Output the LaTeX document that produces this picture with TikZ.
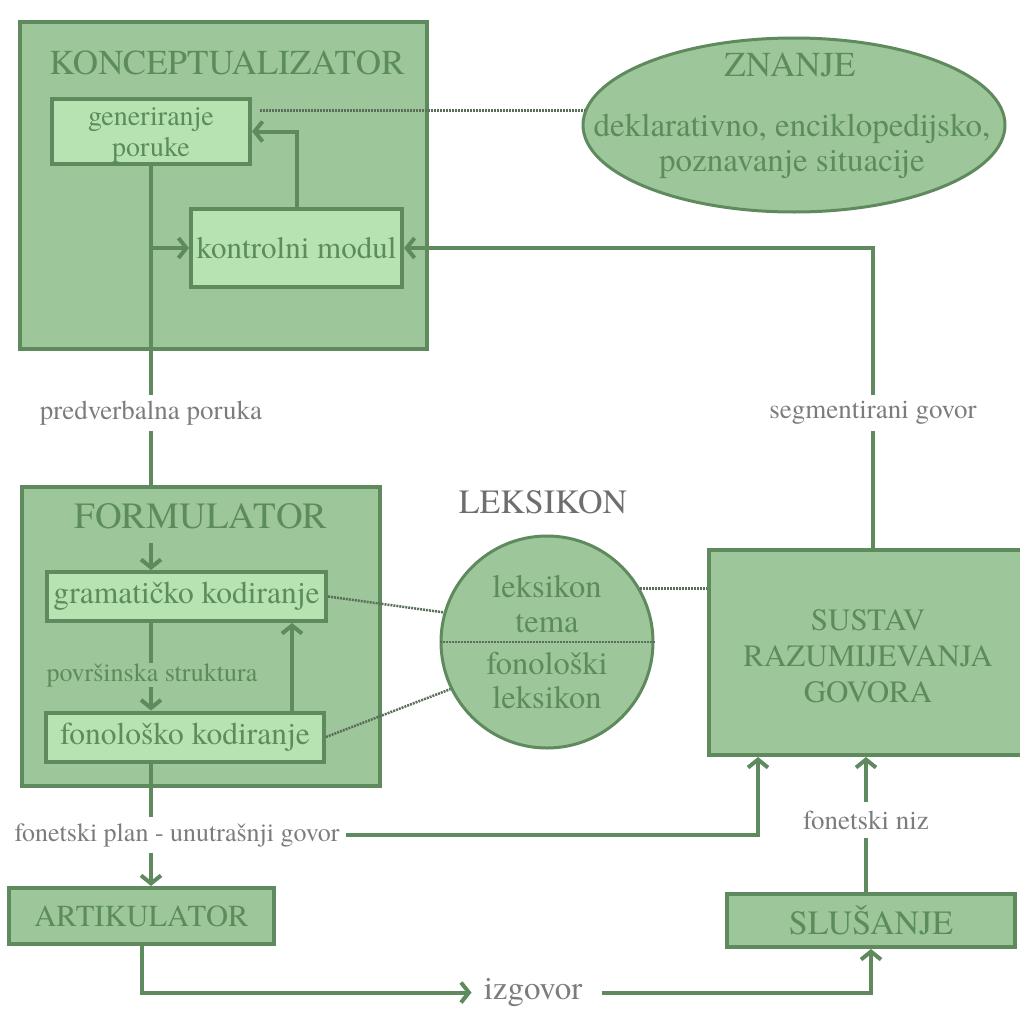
\documentclass[tikz,border=0pt]{standalone}
\usepackage{fontspec}
\setmainfont{texgyretermes-regular.otf}
\usetikzlibrary{arrows.meta,shapes.geometric,calc}
\definecolor{outerfill}{HTML}{9EC69B}
\definecolor{innerfill}{HTML}{B7E3B2}
\definecolor{edge}{HTML}{5E8A5E}
\definecolor{boxtext}{HTML}{5C8C5C}
\definecolor{labgray}{HTML}{7A7E7A}
\definecolor{lekgray}{HTML}{6E6E6E}
\definecolor{dotc}{HTML}{5A6E5A}
\begin{document}
\begin{tikzpicture}[x=1pt,y=-1pt,
  box/.style={draw=edge, line width=4pt, fill=outerfill, inner sep=0pt, rectangle},
  ibox/.style={draw=edge, line width=4pt, fill=innerfill, inner sep=0pt, text=boxtext, align=center},
  conn/.style={draw=edge, line width=4pt},
  arr/.style={conn, -{Straight Barb[length=8pt,width=20pt]}},
  dot/.style={draw=dotc, line width=2.5pt, dash pattern=on 2pt off 1pt},
  lbl/.style={text=labgray, inner ysep=0pt, inner xsep=6pt, minimum height=36pt, font=\fontsize{27}{30}\selectfont},
  ttl/.style={text=boxtext, inner sep=0pt},
]
\clip (0,0) rectangle (1020,1017);

% ---- boxes
\node[box, minimum width=407, minimum height=327] (konc) at (223.5,185.5) {};
\node[ttl, font=\fontsize{35}{40}\selectfont] (ktitle) at (227,63) {KONCEPTUALIZATOR};
\node[ibox, minimum width=198, minimum height=65] (gen) at (151,131.5) {};
\node[ttl, align=center, font=\fontsize{28}{31}\selectfont] (gentext) at (151,135) {generiranje\\poruke};
\node[ibox, minimum width=211, minimum height=78, font=\fontsize{31}{34}\selectfont] (ctrl) at (296.5,248) {kontrolni modul};

\node[ellipse, draw=edge, line width=3pt, fill=outerfill, minimum width=422, minimum height=174, inner sep=0pt] (zn) at (794,125) {};
\node[ttl, font=\fontsize{35}{40}\selectfont] (zntitle) at (790,65) {ZNANJE};
\node[ttl, align=center, font=\fontsize{33}{35}\selectfont] (zntext) at (792,146) {deklarativno, enciklopedijsko,\\poznavanje situacije};

\node[box, minimum width=358, minimum height=299] (form) at (201,636.5) {};
\node[ttl, font=\fontsize{37}{40}\selectfont] (ftitle) at (201,516) {FORMULATOR};
\node[ibox, minimum width=279, minimum height=49, font=\fontsize{31.5}{34}\selectfont] (gram) at (186.5,596.5) {gramatičko kodiranje};
\node[ibox, minimum width=278, minimum height=49, font=\fontsize{31.5}{34}\selectfont] (fon) at (185,737) {fonološko kodiranje};
\node[lbl, text=boxtext, minimum height=24pt, inner xsep=0pt, font=\fontsize{26}{28}\selectfont] (ps) at (152,675) {površinska struktura};

\node[text=lekgray, inner sep=0pt, font=\fontsize{34}{36}\selectfont] (lktitle) at (543,502) {LEKSIKON};
\node[circle, draw=edge, line width=3pt, fill=outerfill, minimum size=212, inner sep=0pt] (leks) at (547,642) {};
\node[ttl, align=center, font=\fontsize{32.5}{35}\selectfont] (lk1) at (547,604) {leksikon\\tema};
\node[ttl, align=center, font=\fontsize{32.5}{34}\selectfont] (lk2) at (547,681) {fonološki\\leksikon};

\node[box, minimum width=330, minimum height=205, anchor=north west] (sus) at (707,548) {};
\node[ttl, align=center, font=\fontsize{31}{36}\selectfont] (sustext) at (868,656) {SUSTAV\\RAZUMIJEVANJA\\GOVORA};

\node[box, minimum width=265, minimum height=56, text=boxtext, font=\fontsize{30.5}{34}\selectfont] (art) at (141.5,916) {ARTIKULATOR};
\node[box, minimum width=288, minimum height=53, text=boxtext, font=\fontsize{34}{36}\selectfont] (sl) at (871,920.5) {SLUŠANJE};

% ---- labels
\node[lbl] (pv) at (151,413) {predverbalna poruka};
\node[lbl] (seg) at (873,413) {segmentirani govor};
\node[lbl, font=\fontsize{26}{30}\selectfont] (fp) at (177,835) {fonetski plan - unutrašnji govor};
\node[lbl] (fn) at (866,820) {fonetski niz};
\node[lbl, inner xsep=0pt, font=\fontsize{33}{36}\selectfont] (izg) at (533,992.5) {izgovor};

% ---- helper columns
\coordinate (c1) at (151,0);
\coordinate (c2) at (758,0);
\coordinate (c3) at (292,0);

% ---- connectors
\draw[conn] (gen.south) -- (pv.north);
\draw[arr] (gen.south |- ctrl.west) -- (ctrl.west);
\draw[arr] (ctrl.north) |- (gen.east);
\draw[conn] (pv.south) -- (pv.south |- form.north);

\draw[arr] ([yshift=-14pt]ftitle.south -| c1) -- (gram.north -| c1);
\draw[conn] (gram.south -| c1) -- (ps.north -| c1);
\draw[arr] (ps.south -| c1) -- (fon.north -| c1);
\draw[arr] (fon.north -| c3) -- (gram.south -| c3);
\draw[conn] (fon.south -| c1) -- (fp.north -| c1);
\draw[arr] (fp.south -| c1) -- (art.north -| c1);
\draw[arr] (fp.east) -| (c2 |- sus.south);

\draw[conn] (sus.north -| seg) -- (seg.south);
\draw[arr] (seg.north) |- (ctrl.east);
\draw[conn] (sl.north -| fn) -- (fn.south);
\draw[arr] (fn.north) -- (fn.north |- sus.south);

\draw[arr] (art.south) |- ($(izg.west)+(-12,0)$);
\draw[arr] ($(izg.east)+(20,0)$) -| (sl.south);

% ---- dotted links
\draw[dot] ($(gen.east |- zn.176)+(8,0)$) -- (zn.176);
\draw[dot] (gram.east) -- (leks.164);
\draw[dot] (fon.east) -- (leks.206);
\draw[dot] (leks.west) -- (leks.east);
\draw[dot] (leks.30) -- (leks.30 -| sus.west);
\end{tikzpicture}
\end{document}
